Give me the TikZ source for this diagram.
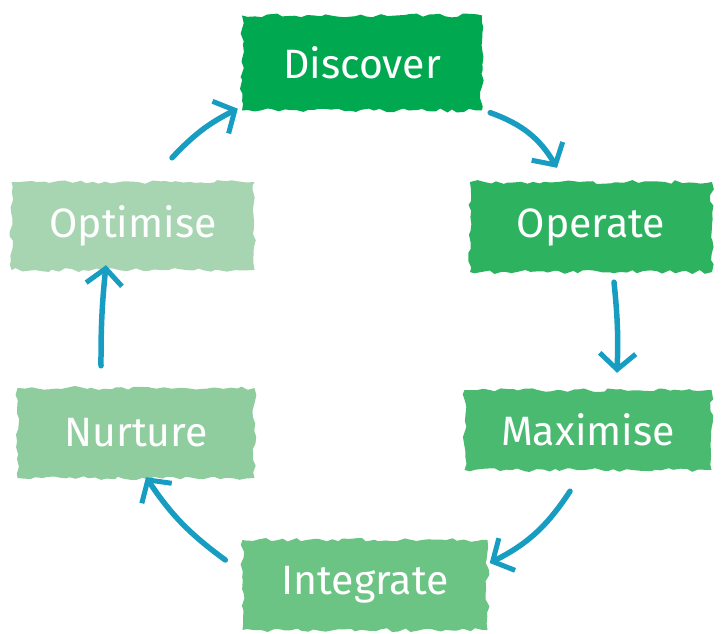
\documentclass[tikz,border=0pt]{standalone}
\usepackage{fontspec}
\setmainfont{Fira Sans}
\usetikzlibrary{arrows.meta,decorations.pathmorphing,calc}
\definecolor{cDisc}{HTML}{00A94F}
\definecolor{cOper}{HTML}{2DB360}
\definecolor{cMaxi}{HTML}{4BBA71}
\definecolor{cInte}{HTML}{6BC384}
\definecolor{cNurt}{HTML}{8FCD9F}
\definecolor{cOpti}{HTML}{A7D5B1}
\definecolor{cArr}{HTML}{179DC2}
\tikzset{
  brush/.style={fill=#1, text=white, inner sep=0pt,
    font=\fontsize{41}{43}\selectfont,
    decorate, decoration={random steps, segment length=6pt, amplitude=2pt}},
  arr/.style={draw=cArr, line width=5.5pt, line cap=round,
    -{Straight Barb[length=16pt, width=36pt, line width=5pt]}}
}
\begin{document}
\begin{tikzpicture}[x=1pt,y=1pt]
\useasboundingbox (0,0) rectangle (722,633);
\pgfmathsetseed{7}
\node[brush=cDisc, minimum width=240pt, minimum height=95pt] (disc) at (362,570) {Discover};
\node[brush=cOper, minimum width=242pt, minimum height=90pt] (oper) at (591,406) {Operate};
\node[brush=cMaxi, minimum width=247pt, minimum height=80pt] (maxi) at (588,203) {Maximise};
\node[brush=cInte, minimum width=245pt, minimum height=90pt] (inte) at (365,48) {Integrate};
\node[brush=cNurt, minimum width=237pt, minimum height=90pt] (nurt) at (136,200) {Nurture};
\node[brush=cOpti, minimum width=243pt, minimum height=88pt] (opti) at (133,407) {Optimise};

\draw[arr] ($(disc.south east)+(8,-2)$) to[bend left=20] ($(oper.north)+(-34,14)$);
\draw[arr] ($(oper.south)+(23,-10)$) to[bend left=4] ($(maxi.north)+(29,17)$);
\draw[arr] ($(maxi.south)+(-18,-21)$) to[bend left=15] ($(inte.east)+(2,22)$);
\draw[arr] ($(inte.west)+(-17,25)$) to[bend left=10] ($(nurt.south)+(10,1)$);
\draw[arr] ($(nurt.north)+(-35,22)$) to[bend left=3] ($(opti.south)+(-27,5)$);
\draw[arr] ($(opti.north)+(39,24)$) to[bend left=10] ($(disc.south west)+(-4,2)$);
\end{tikzpicture}
\end{document}
